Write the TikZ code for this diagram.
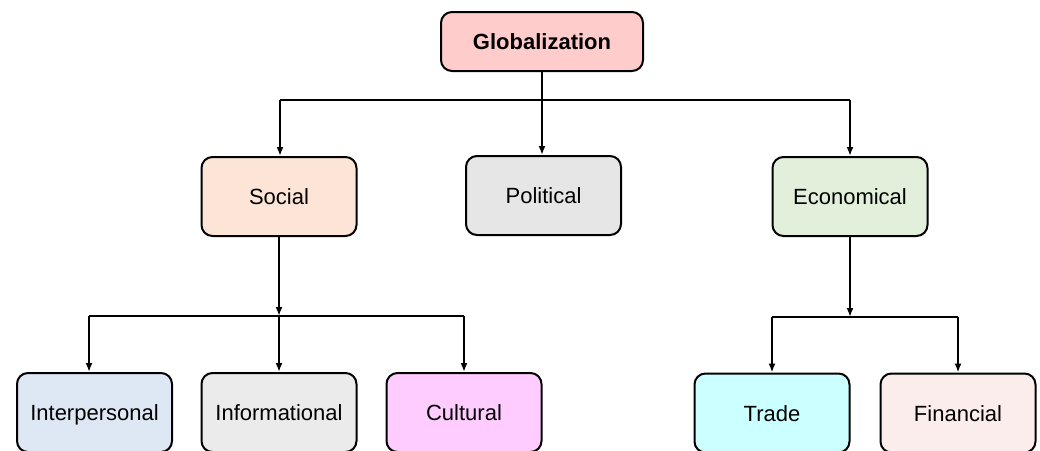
\documentclass[tikz,border=0pt]{standalone}
\usepackage{fontspec}
\setmainfont{Liberation Sans}
\usetikzlibrary{arrows.meta}

\definecolor{cGlob}{HTML}{FFCCCC}
\definecolor{cSocial}{HTML}{FCE4D6}
\definecolor{cPolit}{HTML}{E6E6E6}
\definecolor{cEcon}{HTML}{E2EFDA}
\definecolor{cInterp}{HTML}{DEE8F4}
\definecolor{cInform}{HTML}{EBEBEB}
\definecolor{cCult}{HTML}{FFCCFF}
\definecolor{cTrade}{HTML}{CCFFFF}
\definecolor{cFin}{HTML}{FCEDED}

\tikzset{
  box/.style={draw=black, line width=2pt, rounded corners=11pt,
    minimum width=155pt, minimum height=79pt, inner sep=0pt,
    text height=16pt, text depth=0pt,
    font=\fontsize{22}{26}\selectfont, text=black},
  link/.style={line width=2pt, draw=black},
  arr/.style={link, -{Latex[length=9pt,width=7pt]}},
}

\begin{document}
\begin{tikzpicture}[x=1pt,y=-1pt]
  \useasboundingbox (0,0) rectangle (1040,450);
  \begin{scope}
  \clip (0,0) rectangle (1040,450);

  % root
  \node[box, fill=cGlob, minimum width=202pt, minimum height=59pt,
        font=\fontsize{22}{26}\selectfont\bfseries] (glob) at (542,41.5) {Globalization};

  % second level
  \node[box, fill=cSocial] (social) at (279,196.5) {Social};
  \node[box, fill=cPolit]  (polit)  at (543.5,195.5) {Political};
  \node[box, fill=cEcon]   (econ)   at (850,196.5) {Economical};

  % third level
  \node[box, fill=cInterp] (interp) at (94.5,412.5) {Interpersonal};
  \node[box, fill=cInform] (inform) at (279,412.5)  {Informational};
  \node[box, fill=cCult]   (cult)   at (464,412.5)  {Cultural};
  \node[box, fill=cTrade]  (trade)  at (772,413)    {Trade};
  \node[box, fill=cFin]    (fin)    at (958,413)    {Financial};

  % bus from the root to the second level
  \coordinate (busA) at (542,100);
  \coordinate (busAl) at (280,100);
  \coordinate (busAr) at (850,100);
  \draw[link] (glob.south) -- (busA);
  \draw[link] (busAl) -- (busAr);
  \draw[arr] (busAl) -- (busAl |- social.north);
  \draw[arr] (busA) -- (busA |- polit.north);
  \draw[arr] (busAr) -- (econ.north);

  % bus from Social to its children
  \coordinate (busB) at (279,316);
  \coordinate (busBl) at (89,316);
  \coordinate (busBr) at (464,316);
  \draw[arr] (social.south) -- (busB);
  \draw[link] (busBl) -- (busBr);
  \draw[arr] (busBl) -- (busBl |- interp.north);
  \draw[arr] (busB) -- (inform.north);
  \draw[arr] (busBr) -- (cult.north);

  % bus from Economical to its children
  \coordinate (busC) at (850,317);
  \coordinate (busCl) at (772,317);
  \coordinate (busCr) at (958,317);
  \draw[arr] (econ.south) -- (busC);
  \draw[link] (busCl) -- (busCr);
  \draw[arr] (busCl) -- (trade.north);
  \draw[arr] (busCr) -- (fin.north);
  \end{scope}
\end{tikzpicture}
\end{document}
